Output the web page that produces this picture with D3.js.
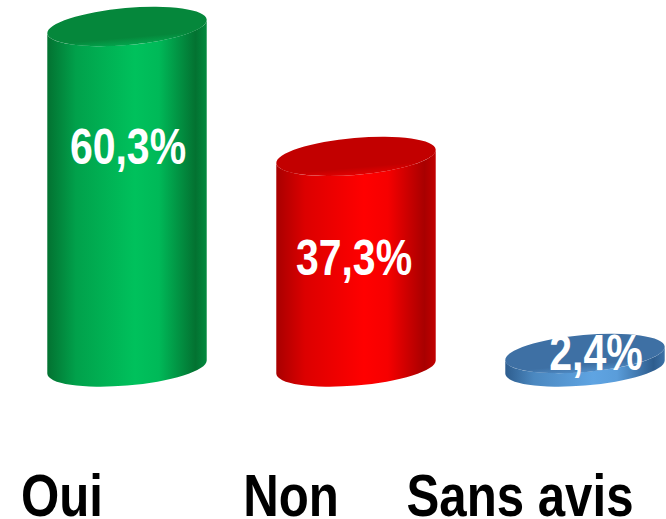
<!DOCTYPE html>
<html>
<head>
<meta charset="utf-8">
<script src="https://cdn.jsdelivr.net/npm/d3@7"></script>
<style>
  body { margin: 0; background: #fff; }
  text { font-family: "Liberation Sans", Arial, sans-serif; font-weight: bold; }
</style>
</head>
<body>
<script>
// chart data
var categories = ["Oui", "Non", "Sans avis"];
var values = [60.3, 37.3, 2.4];
var valueLabels = ["60,3%", "37,3%", "2,4%"];

// colours per bar: [edge, light, top]
var palette = [
  ["#037231", "#00c15c", "#05873b"],
  ["#a80000", "#ff0000", "#c20000"],
  ["#2e5d8e", "#5fa4e2", "#3e70a4"]
];

window.onload = function() {

  const width = 666, height = 519;
  // narrow the font, there is no condensed face installed
  const squeeze = 0.82;

  var svg = d3.select("body").append("svg")
      .attr("width", width)
      .attr("height", height);

  var xScale = d3.scalePoint()
      .domain(categories)
      .range([127, 585]);

  var yScale = d3.scaleLinear()
      .domain([0, 65])
      .range([367, 0]);

  // ellipse geometry
  var a = 80, b = 18.5, theta = -5 * Math.PI / 180;
  var t0 = Math.atan2(-b * Math.sin(theta), a * Math.cos(theta));
  function pt(t) {
    return [a * Math.cos(t) * Math.cos(theta) - b * Math.sin(t) * Math.sin(theta),
            a * Math.cos(t) * Math.sin(theta) + b * Math.sin(t) * Math.cos(theta)];
  }
  var p1 = pt(t0), p2 = pt(t0 + Math.PI);
  var right = p1[0] > p2[0] ? p1 : p2;
  var left = p1[0] > p2[0] ? p2 : p1;
  var rotDeg = theta * 180 / Math.PI;

  var defs = svg.append("defs");
  palette.forEach(function(c, i) {
    var g = defs.append("linearGradient")
        .attr("id", "body" + i)
        .attr("x1", "0").attr("x2", "1").attr("y1", "0").attr("y2", "0");
    var stops = [[0, c[0]], [0.18, d3.interpolateRgb(c[0], c[1])(0.6)], [0.55, c[1]],
                 [0.7, d3.interpolateRgb(c[0], c[1])(0.9)], [0.93, c[0]], [1, d3.interpolateRgb(c[0], c[1])(0.3)]];
    stops.forEach(function(s) {
      g.append("stop").attr("offset", s[0]).attr("stop-color", s[1]);
    });
    var gt = defs.append("linearGradient")
        .attr("id", "top" + i)
        .attr("x1", "0").attr("x2", "0").attr("y1", "0").attr("y2", "1");
    gt.append("stop").attr("offset", 0).attr("stop-color", c[2]);
    gt.append("stop").attr("offset", 0.8).attr("stop-color", c[2]);
    gt.append("stop").attr("offset", 1).attr("stop-color", d3.interpolateRgb(c[2], c[1])(0.5));
  });

  var bars = svg.selectAll(".bar")
      .data(values)
      .enter()
      .append("g")
      .attr("class", "bar")
      .attr("transform", function(d, i) {
        return "translate(" + xScale(categories[i]) + ",0)";
      });

  // cylinder side
  bars.append("path")
      .attr("d", function(d) {
        var yt = yScale(d), yb = yScale(0);
        return "M" + left[0] + "," + (yt + left[1]) +
               "L" + left[0] + "," + (yb + left[1]) +
               "A" + a + "," + b + " " + rotDeg + " 0 0 " + right[0] + "," + (yb + right[1]) +
               "L" + right[0] + "," + (yt + right[1]) +
               "A" + a + "," + b + " " + rotDeg + " 0 1 " + left[0] + "," + (yt + left[1]) + "Z";
      })
      .attr("fill", function(d, i) { return "url(#body" + i + ")"; });

  // cylinder top
  bars.append("ellipse")
      .attr("rx", a)
      .attr("ry", b)
      .attr("transform", function(d) {
        return "translate(0," + yScale(d) + ") rotate(" + rotDeg + ")";
      })
      .attr("fill", function(d, i) { return "url(#top" + i + ")"; });

  // value labels (layout offsets)
  var labelDy = [137, 119, 17];
  var labelDx = [1, -2, 11];
  bars.append("text")
      .attr("transform", function(d, i) {
        return "translate(" + labelDx[i] + "," + (yScale(d) + labelDy[i]) + ") scale(" + squeeze + ",1)";
      })
      .attr("text-anchor", "middle")
      .attr("font-size", "50px")
      .attr("fill", "#fff")
      .text(function(d, i) { return valueLabels[i]; });

  // category labels
  svg.selectAll(".cat")
      .data(categories)
      .enter()
      .append("text")
      .attr("class", "cat")
      .attr("transform", function(d) {
        return "translate(" + (xScale(d) - 65) + ",516) scale(" + squeeze + ",1)";
      })
      .attr("text-anchor", "middle")
      .attr("font-size", "60px")
      .attr("fill", "#000")
      .text(function(d) { return d; });
};
</script>
</body>
</html>
